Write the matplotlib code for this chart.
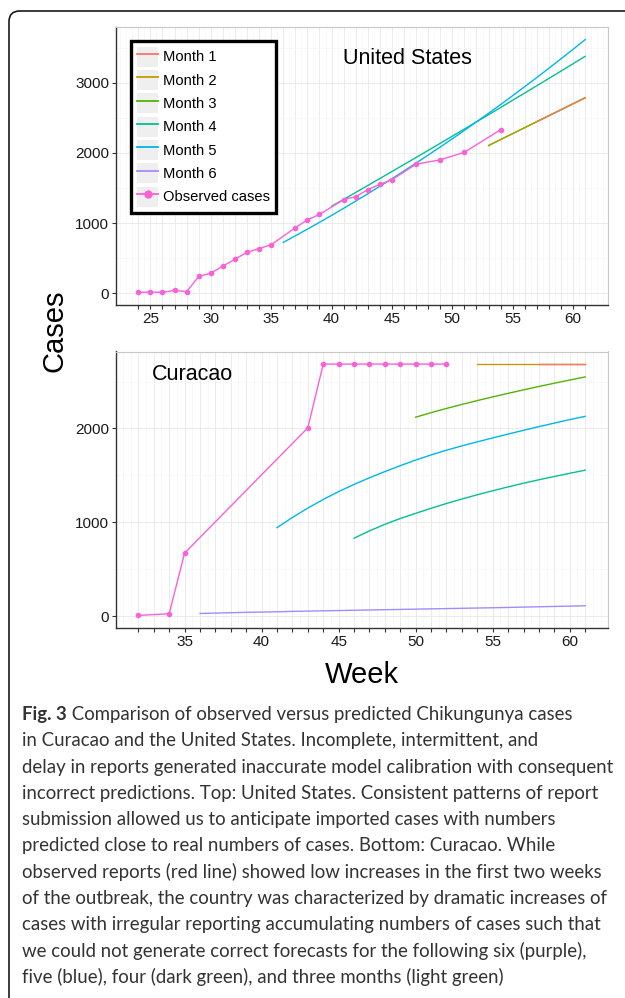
import matplotlib
matplotlib.use("Agg")
import matplotlib.pyplot as plt
from matplotlib.patches import FancyBboxPatch, Rectangle
from matplotlib.lines import Line2D
from matplotlib.legend_handler import HandlerLine2D
from matplotlib.ticker import FixedLocator, MultipleLocator, FuncFormatter

# ---------------- data ----------------
series_names = ["Month 1", "Month 2", "Month 3", "Month 4", "Month 5", "Month 6", "Observed cases"]
series_colors = ["#F8766D", "#C49A00", "#53B400", "#00C094", "#00B6EB", "#A58AFF", "#FB61D7"]

# United States
us_obs_weeks = [24, 25, 26, 27, 28, 29, 30, 31, 32, 33, 34, 35, 37, 38, 39, 41, 42, 43, 44, 45, 47, 49, 51, 54]
us_obs_cases = [14, 19, 14, 42, 24, 241, 288, 387, 486, 585, 637, 693, 934, 1047, 1123, 1335, 1377, 1476, 1552, 1618, 1840, 1901, 2009, 2330]

us_m1_weeks = [57, 58, 59, 60, 61]
us_m1_cases = [2445, 2530, 2615, 2700, 2785]
us_m2_weeks = [53, 54, 55, 56, 57, 58, 59, 60, 61]
us_m2_cases = [2105, 2190, 2275, 2360, 2445, 2530, 2615, 2700, 2785]
us_m3_weeks = [53, 54, 55, 56, 57, 58, 59, 60, 61]
us_m3_cases = [2105, 2190, 2275, 2360, 2445, 2530, 2615, 2700, 2785]
us_m4_weeks = list(range(40, 62))
us_m4_cases = [1240, 1338, 1437, 1536, 1635, 1735, 1835, 1935, 2036, 2137, 2238,
               2340, 2442, 2544, 2647, 2750, 2853, 2957, 3061, 3165, 3270, 3375]
us_m5_weeks = list(range(36, 62))
us_m5_cases = [725, 819, 914, 1011, 1110, 1211, 1314, 1418, 1525, 1633, 1743, 1855, 1969,
               2084, 2201, 2321, 2442, 2564, 2689, 2816, 2944, 3074, 3206, 3340, 3475, 3613]

# Curacao
cw_obs_weeks = [32, 34, 35, 43, 44, 45, 46, 47, 48, 49, 50, 51, 52]
cw_obs_cases = [7, 25, 671, 2007, 2686, 2686, 2686, 2686, 2686, 2686, 2686, 2686, 2686]

cw_m1_weeks = [58, 59, 60, 61]
cw_m1_cases = [2686, 2686, 2686, 2686]
cw_m2_weeks = [54, 55, 56, 57, 58, 59, 60, 61]
cw_m2_cases = [2686, 2686, 2686, 2686, 2686, 2686, 2686, 2686]
cw_m3_weeks = list(range(50, 62))
cw_m3_cases = [2120, 2168, 2213, 2256, 2297, 2336, 2374, 2411, 2447, 2482, 2516, 2549]
cw_m4_weeks = list(range(46, 62))
cw_m4_cases = [830, 908, 978, 1040, 1095, 1149, 1200, 1248, 1293, 1336, 1377, 1416, 1453, 1488, 1522, 1555]
cw_m5_weeks = list(range(41, 62))
cw_m5_cases = [943, 1051, 1151, 1243, 1327, 1403, 1474, 1540, 1603, 1663, 1718, 1768, 1814, 1857,
               1899, 1940, 1980, 2019, 2057, 2094, 2129]
cw_m6_weeks = list(range(36, 62))
cw_m6_cases = [28, 32, 36, 40, 43, 46, 50, 53, 56, 59, 62, 65, 68, 71, 74, 77, 80, 83, 86, 89,
               92, 96, 99, 103, 106, 110]

caption_bold = "Fig. 3"
caption_lines = [
    " Comparison of observed versus predicted Chikungunya cases",
    "in Curacao and the United States. Incomplete, intermittent, and",
    "delay in reports generated inaccurate model calibration with consequent",
    "incorrect predictions. Top: United States. Consistent patterns of report",
    "submission allowed us to anticipate imported cases with numbers",
    "predicted close to real numbers of cases. Bottom: Curacao. While",
    "observed reports (red line) showed low increases in the first two weeks",
    "of the outbreak, the country was characterized by dramatic increases of",
    "cases with irregular reporting accumulating numbers of cases such that",
    "we could not generate correct forecasts for the following six (purple),",
    "five (blue), four (dark green), and three months (light green)",
]

# ---------------- figure ----------------
W, H = 625, 998
fig = plt.figure(figsize=(W / 100, H / 100), dpi=100)
plt.rcParams["font.family"] = ["Liberation Sans", "DejaVu Sans"]

def fx(px):
    return px / W

def fy(py):
    return 1 - py / H

# rounded frame around everything
frame = FancyBboxPatch((fx(9), fy(1015)), fx(640) - fx(9), fy(11) - fy(1015),
                       boxstyle="round,pad=0,rounding_size=0.017",
                       transform=fig.transFigure, facecolor="none",
                       edgecolor="#1a1a1a", linewidth=1.2, mutation_aspect=W / H)
fig.patches.append(frame)

ax1 = fig.add_axes([fx(116), fy(305), fx(607.5) - fx(116), fy(27) - fy(305)])
ax2 = fig.add_axes([fx(116), fy(628), fx(607.5) - fx(116), fy(351.5) - fy(628)])

LW = 1.0

def style(ax, weeks):
    ax.set_facecolor("white")
    for s in ["top", "right"]:
        ax.spines[s].set_color("#C8C8C8")
        ax.spines[s].set_linewidth(0.8)
    for s in ["left", "bottom"]:
        ax.spines[s].set_color("#333333")
        ax.spines[s].set_linewidth(1.0)
    ax.xaxis.set_major_locator(FixedLocator(list(range(min(weeks), max(weeks) + 1))))
    ax.xaxis.set_major_formatter(FuncFormatter(lambda v, p: f"{int(round(v))}" if int(round(v)) % 5 == 0 else ""))
    ax.xaxis.set_minor_locator(MultipleLocator(0.5))
    ax.yaxis.set_major_locator(MultipleLocator(1000))
    ax.yaxis.set_minor_locator(MultipleLocator(500))
    ax.grid(which="major", color="#EBEBEB", linewidth=0.7)
    ax.grid(which="minor", color="#F6F6F6", linewidth=0.5)
    ax.set_axisbelow(True)
    ax.tick_params(which="major", length=3.2, width=0.8, color="#333333",
                   labelsize=11, labelcolor="#1a1a1a", pad=1.8)
    ax.tick_params(which="minor", length=0)

# --- United States ---
ax1.plot(us_m3_weeks, us_m3_cases, color=series_colors[2], lw=LW)
ax1.plot(us_m2_weeks, us_m2_cases, color=series_colors[1], lw=LW, alpha=0.8)
ax1.plot(us_m1_weeks, us_m1_cases, color=series_colors[0], lw=LW, alpha=0.85)
ax1.plot(us_m4_weeks, us_m4_cases, color=series_colors[3], lw=LW)
ax1.plot(us_m5_weeks, us_m5_cases, color=series_colors[4], lw=LW)
ax1.plot(us_obs_weeks, us_obs_cases, color=series_colors[6], lw=LW, marker="o", ms=3.0)
ax1.margins(x=0.05, y=0.05)
style(ax1, us_obs_weeks + us_m5_weeks)
ax1.text(fx(407), fy(59), "United States", transform=fig.transFigure,
         ha="center", va="center", fontsize=15.5, color="black")

# legend
class KeyHandler(HandlerLine2D):
    def create_artists(self, legend, orig_handle, xdescent, ydescent, width, height, fontsize, trans):
        rect = Rectangle((-xdescent, -ydescent), width, height, facecolor="#EFEFEF",
                         edgecolor="none", transform=trans)
        arts = super().create_artists(legend, orig_handle, xdescent, ydescent, width, height, fontsize, trans)
        return [rect] + list(arts)

handles = []
for i, name in enumerate(series_names):
    if i == 6:
        handles.append(Line2D([], [], color=series_colors[i], lw=1.3, marker="o", ms=5))
    else:
        handles.append(Line2D([], [], color=series_colors[i], lw=1.3))
leg = ax1.legend(handles, series_names, loc="upper left",
                 bbox_to_anchor=(fx(130.5), fy(40.5)), bbox_transform=fig.transFigure,
                 fontsize=10.6, frameon=True, fancybox=False, framealpha=1,
                 edgecolor="black", borderpad=0.42, handlelength=1.47, handleheight=1.72,
                 handletextpad=0.3, labelspacing=0.22, borderaxespad=0, numpoints=1,
                 handler_map={Line2D: KeyHandler()})
leg.get_frame().set_linewidth(2.4)

# --- Curacao ---
ax2.plot(cw_m6_weeks, cw_m6_cases, color=series_colors[5], lw=LW)
ax2.plot(cw_m5_weeks, cw_m5_cases, color=series_colors[4], lw=LW)
ax2.plot(cw_m4_weeks, cw_m4_cases, color=series_colors[3], lw=LW)
ax2.plot(cw_m3_weeks, cw_m3_cases, color=series_colors[2], lw=LW)
ax2.plot(cw_m2_weeks, cw_m2_cases, color=series_colors[1], lw=LW)
ax2.plot(cw_m1_weeks, cw_m1_cases, color=series_colors[0], lw=LW)
ax2.plot(cw_obs_weeks, cw_obs_cases, color=series_colors[6], lw=LW, marker="o", ms=3.0)
ax2.margins(x=0.05, y=0.05)
style(ax2, cw_obs_weeks + cw_m6_weeks)
ax2.text(fx(192), fy(374), "Curacao", transform=fig.transFigure,
         ha="center", va="center", fontsize=15.5, color="black")

# axis titles
fig.text(fx(55), fy(331), "Cases", rotation=90, ha="center", va="center", fontsize=21, color="black")
fig.text(fx(362), fy(675), "Week", ha="center", va="center", fontsize=21, color="black")

# caption
cap_font = ["Lato", "DejaVu Sans"]
cap_size = 13.4
cap_color = "#333333"
base0 = 720
step = 26.3
t0 = fig.text(fx(22), fy(base0), caption_bold, fontsize=cap_size, fontweight="bold",
              family=cap_font, color=cap_color, va="baseline", ha="left")
fig.canvas.draw()
bb = t0.get_window_extent()
fig.text(bb.x1 / W, fy(base0), caption_lines[0], fontsize=cap_size, family=cap_font,
         color=cap_color, va="baseline", ha="left")
for i, line in enumerate(caption_lines[1:], start=1):
    fig.text(fx(22), fy(base0 + i * step), line, fontsize=cap_size, family=cap_font,
             color=cap_color, va="baseline", ha="left")

fig.savefig("out.png", dpi=100)
